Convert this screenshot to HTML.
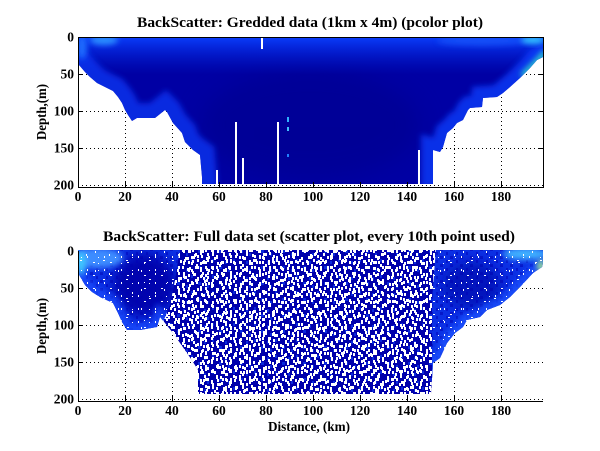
<!DOCTYPE html>
<html><head><meta charset="utf-8">
<style>
html,body{margin:0;padding:0;background:#fff;}
svg{display:block}
text{font-family:"Liberation Serif","DejaVu Serif",serif;font-weight:bold;fill:#000}
</style></head><body>
<svg width="600" height="451" viewBox="0 0 600 451" xmlns="http://www.w3.org/2000/svg">
<defs>
 <clipPath id="ctop"><polygon points="78,37 543,37 543,57 537,60 530,68 520,78 510,87 503,93 497,97 483,98 482,107 470,108 468,110 463,120 457,123 453,128 447,133 443,147 440,152 433,150 433,184 202,184 202,177 200,155 193,150 185,142 182,133 173,123 167,112 165,110 155,118 137,118 132,121 128,115 125,110 122,103 118,97 113,91 105,87 97,83 90,77 85,72 79,65 78,65"/></clipPath>
 <clipPath id="cbot"><polygon points="78,250 543,250 543,263 542,267 533,273 520,287 510,297 500,305 487,310 480,317 467,320 463,327 455,333 447,343 440,358 433,363 431,394 198,394 198,370 193,362 187,353 180,343 173,333 165,323 160,317 157,327 140,330 127,330 122,322 118,313 113,303 100,297 92,292 85,285 78,273"/></clipPath>
 <clipPath id="cdl"><polygon points="78,248 180,248 175,280 170,305 163,322 160,340 78,340"/></clipPath>
 <clipPath id="cdr"><polygon points="436,248 545,248 545,400 432,400 432,300"/></clipPath>
 <filter id="b3" x="-50%" y="-50%" width="200%" height="200%"><feGaussianBlur stdDeviation="3"/></filter>
 <filter id="b6" x="-50%" y="-50%" width="200%" height="200%"><feGaussianBlur stdDeviation="6"/></filter>
 <filter id="b12" x="-50%" y="-50%" width="200%" height="200%"><feGaussianBlur stdDeviation="12"/></filter>
 <linearGradient id="gtop" x1="0" y1="0" x2="0" y2="1">
  <stop offset="0" stop-color="#0a40ff" stop-opacity="0.95"/>
  <stop offset="0.1" stop-color="#0630ec" stop-opacity="0.6"/>
  <stop offset="0.25" stop-color="#0020d0" stop-opacity="0"/>
 </linearGradient>
 <pattern id="h1" width="17" height="13" patternUnits="userSpaceOnUse"><g fill="#fff"><rect x="1" y="1" width="2" height="3"/><rect x="8" y="6" width="2" height="3"/><rect x="13" y="2" width="2" height="3"/><rect x="4" y="9" width="2" height="3"/></g></pattern>
 <pattern id="h2" width="19" height="11" patternUnits="userSpaceOnUse"><g fill="#fff"><rect x="2" y="7" width="2" height="3"/><rect x="7" y="2" width="2" height="3"/><rect x="12" y="8" width="2" height="3"/><rect x="16" y="4" width="2" height="3"/></g></pattern>
 <pattern id="h3" width="23" height="17" patternUnits="userSpaceOnUse"><g fill="#fff"><rect x="0" y="4" width="2" height="3"/><rect x="5" y="12" width="2" height="3"/><rect x="9" y="1" width="2" height="3"/><rect x="12" y="9" width="2" height="3"/><rect x="16" y="14" width="2" height="3"/><rect x="19" y="5" width="2" height="3"/><rect x="21" y="11" width="2" height="3"/></g></pattern>
 <pattern id="h4" width="29" height="19" patternUnits="userSpaceOnUse"><g fill="#fff"><rect x="1" y="14" width="2" height="3"/><rect x="4" y="6" width="2" height="3"/><rect x="8" y="0" width="2" height="3"/><rect x="11" y="10" width="2" height="3"/><rect x="14" y="3" width="2" height="3"/><rect x="17" y="15" width="2" height="3"/><rect x="20" y="7" width="2" height="3"/><rect x="23" y="12" width="2" height="3"/><rect x="26" y="1" width="2" height="3"/><rect x="27" y="8" width="2" height="3"/></g></pattern>
 <pattern id="m1" width="21" height="16" patternUnits="userSpaceOnUse"><g fill="#0a28dc"><rect x="2" y="3" width="2" height="3"/><rect x="9" y="10" width="3" height="3"/><rect x="15" y="5" width="2" height="3"/><rect x="18" y="13" width="2" height="3"/></g></pattern>
 <pattern id="n1" width="10" height="8" patternUnits="userSpaceOnUse"><rect x="0" y="0" width="3" height="3" fill="#0000b0"/><rect x="6" y="4" width="2" height="3" fill="#0000b8"/></pattern>
 <pattern id="s1" width="23" height="19" patternUnits="userSpaceOnUse"><g fill="#fff"><rect x="3" y="4" width="1" height="2"/><rect x="11" y="13" width="2" height="1"/><rect x="17" y="7" width="1" height="2"/><rect x="6" y="16" width="1" height="1"/></g></pattern>
 <pattern id="s2" width="17" height="13" patternUnits="userSpaceOnUse"><g fill="#fff"><rect x="8" y="2" width="2" height="1"/><rect x="2" y="9" width="1" height="2"/><rect x="13" y="10" width="1" height="1"/></g></pattern>
</defs>

<rect width="600" height="451" fill="#fff"/>

<!-- ===== TOP PLOT ===== -->
<g stroke="#000" stroke-width="1" stroke-dasharray="1 3" fill="none">
 <path d="M125.5 37V187M172.5 37V187M219.5 37V187M266.5 37V187M313.5 37V187M360.5 37V187M407.5 37V187M454.5 37V187M501.5 37V187"/>
 <path d="M78 74.5H543M78 111.5H543M78 148.5H543M78 185.5H543"/>
</g>
<g clip-path="url(#ctop)">
 <rect x="78" y="37" width="465" height="150" fill="#0000a4"/>
 <ellipse cx="310" cy="125" rx="110" ry="55" fill="#00008a" opacity="0.5" filter="url(#b12)"/>
 <rect x="78" y="37" width="465" height="150" fill="url(#gtop)"/>
 <polyline points="202,188 202,177 200,155 193,150 185,142 182,133 173,123 167,112 165,110 155,118 137,118 132,121 128,115 125,110 122,103 118,97 113,91 105,87 97,83 90,77 85,72 79,65 70,60" fill="none" stroke="#0a38f5" stroke-width="30" opacity="0.75" filter="url(#b3)"/>
 <polyline points="550,55 543,57 537,60 530,68 520,78 510,87 503,93 497,97 483,98 482,107 470,108 468,110 463,120 457,123 453,128 447,133 443,147 440,152 433,150 433,188" fill="none" stroke="#0a40ff" stroke-width="24" opacity="0.75" filter="url(#b3)"/>
 <ellipse cx="104" cy="40" rx="14" ry="5" fill="#2a8cff" filter="url(#b3)"/>
 <ellipse cx="82" cy="47" rx="5" ry="12" fill="#1e6cff" filter="url(#b3)"/>
 <ellipse cx="482" cy="41" rx="45" ry="5" fill="#1a60ff" opacity="0.6" filter="url(#b3)"/>
 <ellipse cx="533" cy="40" rx="12" ry="4" fill="#30c0ff" filter="url(#b3)"/>
 <polyline points="545,52 540,58 534,64 528,70 522,76" fill="none" stroke="#30e0c8" stroke-width="5" filter="url(#b3)"/>
 <rect x="533" y="68" width="3" height="3" fill="#800000"/>
 <rect x="287" y="117" width="2" height="5" fill="#30b0ff"/>
 <rect x="287" y="127" width="2" height="4" fill="#40c0ff"/>
 <rect x="287" y="154" width="2" height="3" fill="#2080ff"/>
 <rect x="261" y="37" width="2" height="12" fill="#fff"/>
 <rect x="216" y="170" width="2" height="16" fill="#fff"/>
 <rect x="235" y="122" width="2" height="64" fill="#fff"/>
 <rect x="242" y="158" width="2" height="28" fill="#fff"/>
 <rect x="277" y="122" width="2" height="64" fill="#fff"/>
 <rect x="418" y="150" width="2" height="36" fill="#fff"/>
</g>
<rect x="78.5" y="37.5" width="465" height="150" fill="none" stroke="#000" stroke-width="1"/>
<g stroke="#000" stroke-width="1">
 <path d="M78 74.5h5M78 111.5h5M78 148.5h5M543 74.5h-5M543 111.5h-5M543 148.5h-5"/>
 <path d="M125.5 187v-5M172.5 187v-5M219.5 187v-5M266.5 187v-5M313.5 187v-5M360.5 187v-5M407.5 187v-5M454.5 187v-5M501.5 187v-5"/>
</g>
<text x="310" y="27" font-size="15" text-anchor="middle" textLength="346" lengthAdjust="spacingAndGlyphs">BackScatter: Gredded data (1km x 4m) (pcolor plot)</text>
<g font-size="13.5" text-anchor="end">
 <text x="74" y="41.5">0</text><text x="74" y="78.5">50</text><text x="74" y="115.5">100</text><text x="74" y="152.5">150</text><text x="74" y="189.5">200</text>
</g>
<g font-size="13.5" text-anchor="middle">
 <text x="78" y="201">0</text><text x="125" y="201">20</text><text x="172" y="201">40</text><text x="219" y="201">60</text><text x="266" y="201">80</text><text x="313" y="201">100</text><text x="360" y="201">120</text><text x="407" y="201">140</text><text x="454" y="201">160</text><text x="501" y="201">180</text>
</g>
<text transform="translate(46,112) rotate(-90)" font-size="13.5" text-anchor="middle" textLength="56" lengthAdjust="spacingAndGlyphs">Depth,(m)</text>

<!-- ===== BOTTOM PLOT ===== -->
<g stroke="#000" stroke-width="1" stroke-dasharray="1 3" fill="none">
 <path d="M125.5 251V401M172.5 251V401M219.5 251V401M266.5 251V401M313.5 251V401M360.5 251V401M407.5 251V401M454.5 251V401M501.5 251V401"/>
 <path d="M78 288.5H543M78 325.5H543M78 362.5H543M78 399.5H543"/>
</g>
<g clip-path="url(#cbot)">
 <rect x="78" y="248" width="467" height="150" fill="#0000ac"/>
 <rect x="78" y="248" width="467" height="150" fill="url(#m1)"/>
 <rect x="78" y="248" width="467" height="150" fill="url(#h1)"/>
 <rect x="78" y="248" width="467" height="150" fill="url(#h2)"/>
 <rect x="78" y="248" width="467" height="150" fill="url(#h3)"/>
 <rect x="78" y="248" width="467" height="150" fill="url(#h4)"/>
 <g clip-path="url(#cdl)">
  <rect x="78" y="248" width="110" height="95" fill="#0c30e4"/>
  <ellipse cx="145" cy="285" rx="32" ry="32" fill="#0004a8" opacity="0.9" filter="url(#b6)"/>
  <rect x="78" y="248" width="110" height="95" fill="url(#n1)" opacity="0.5"/>
  <polyline points="198,396 198,370 193,362 187,353 180,343 173,333 165,323 160,317 157,327 140,330 127,330 122,322 118,313 113,303 100,297 92,292 85,285 78,273 70,268" fill="none" stroke="#1a50ff" stroke-width="14" opacity="0.7" filter="url(#b3)"/>
  <ellipse cx="97" cy="258" rx="26" ry="10" fill="#3c8cff" filter="url(#b3)"/>
  <ellipse cx="81" cy="263" rx="5" ry="12" fill="#40c8ff" filter="url(#b3)"/>
  <rect x="78" y="248" width="110" height="95" fill="url(#s1)"/>
  <rect x="78" y="248" width="110" height="95" fill="url(#s2)"/>
 </g>
 <g clip-path="url(#cdr)">
  <rect x="430" y="248" width="115" height="152" fill="#0c30e4"/>
  <ellipse cx="472" cy="285" rx="30" ry="24" fill="#0008b0" opacity="0.75" filter="url(#b6)"/>
  <rect x="430" y="248" width="115" height="152" fill="url(#n1)" opacity="0.5"/>
  <polyline points="550,260 543,263 542,267 533,273 520,287 510,297 500,305 487,310 480,317 467,320 463,327 455,333 447,343 440,358 433,363 431,396" fill="none" stroke="#1a55ff" stroke-width="14" opacity="0.75" filter="url(#b3)"/>
  <ellipse cx="525" cy="254" rx="22" ry="6" fill="#40b0ff" filter="url(#b3)"/>
  <ellipse cx="541" cy="266" rx="4" ry="6" fill="#a0e890" filter="url(#b3)"/>
  <rect x="430" y="248" width="115" height="152" fill="url(#s1)"/>
  <rect x="430" y="248" width="115" height="152" fill="url(#s2)"/>
 </g>
</g>
<g stroke="#000" stroke-width="1" fill="none">
 <path d="M78.5 251V401.5M78 401.5H543"/>
 <path d="M78 288.5h5M78 325.5h5M78 362.5h5"/>
 <path d="M125.5 401v-5M172.5 401v-5M219.5 401v-5M266.5 401v-5M313.5 401v-5M360.5 401v-5M407.5 401v-5M454.5 401v-5M501.5 401v-5"/>
</g>
<text x="309" y="241" font-size="15" text-anchor="middle" textLength="412" lengthAdjust="spacingAndGlyphs">BackScatter: Full data set (scatter plot, every 10th point used)</text>
<g font-size="13.5" text-anchor="end">
 <text x="74" y="255.5">0</text><text x="74" y="292.5">50</text><text x="74" y="329.5">100</text><text x="74" y="366.5">150</text><text x="74" y="403.5">200</text>
</g>
<g font-size="13.5" text-anchor="middle">
 <text x="78" y="415">0</text><text x="125" y="415">20</text><text x="172" y="415">40</text><text x="219" y="415">60</text><text x="266" y="415">80</text><text x="313" y="415">100</text><text x="360" y="415">120</text><text x="407" y="415">140</text><text x="454" y="415">160</text><text x="501" y="415">180</text>
</g>
<text transform="translate(46,326) rotate(-90)" font-size="13.5" text-anchor="middle" textLength="56" lengthAdjust="spacingAndGlyphs">Depth,(m)</text>
<text x="309" y="431" font-size="13.5" text-anchor="middle" textLength="82" lengthAdjust="spacingAndGlyphs">Distance, (km)</text>
</svg>
</body></html>
